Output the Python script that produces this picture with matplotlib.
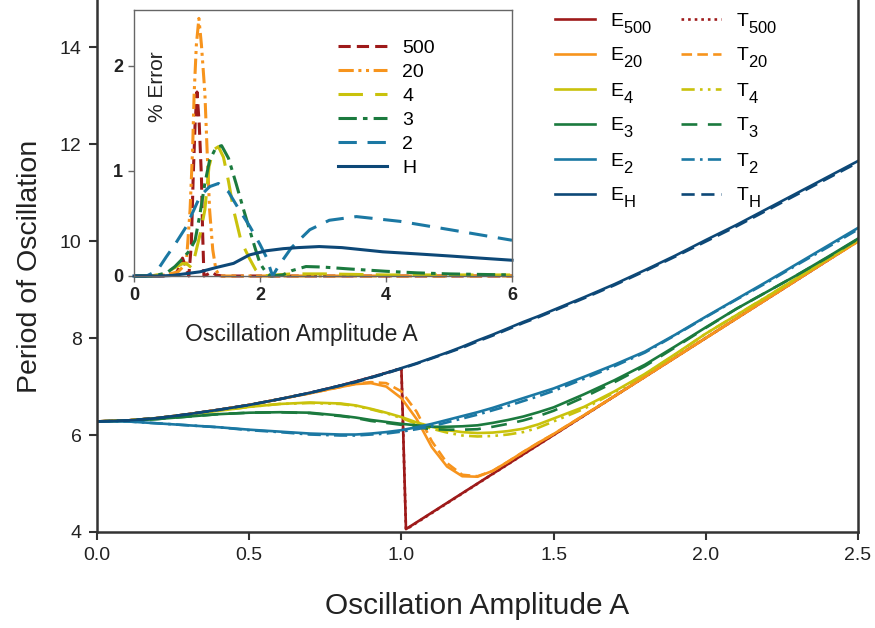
import matplotlib
matplotlib.use("Agg")
import matplotlib.pyplot as plt
import matplotlib._mathtext as mtext

plt.rcParams['font.family'] = ['Liberation Sans', 'DejaVu Sans']
plt.rcParams['mathtext.fontset'] = 'custom'
plt.rcParams['mathtext.rm'] = 'Liberation Sans'
plt.rcParams['mathtext.it'] = 'Liberation Sans:italic'
# subscripts in the legend are nearly full size and sit low
mtext.SHRINK_FACTOR = 0.85
mtext.FontConstantsBase.sub1 = 0.75
mtext.FontConstantsBase.sub2 = 0.85

# ---- main plot data: period vs amplitude ----
A = [0, 0.1, 0.2, 0.3, 0.4, 0.5, 0.6, 0.7, 0.8,
     0.85, 0.9, 0.95, 1.0, 1.05, 1.1, 1.15, 1.2, 1.25, 1.3, 1.35, 1.4, 1.45, 1.5,
     1.6, 1.7, 1.8, 1.9, 2.0, 2.1, 2.2, 2.3, 2.4, 2.5]

E_H = [6.28, 6.30, 6.35, 6.43, 6.52, 6.62, 6.74, 6.87, 7.02,
       7.10, 7.19, 7.28, 7.38, 7.48, 7.59, 7.70, 7.82, 7.95, 8.07, 8.20, 8.33, 8.45, 8.58,
       8.84, 9.11, 9.40, 9.70, 10.02, 10.33, 10.66, 10.99, 11.32, 11.65]
T_H = [6.28, 6.30, 6.35, 6.43, 6.52, 6.62, 6.74, 6.87, 7.02,
       7.09, 7.18, 7.27, 7.37, 7.47, 7.58, 7.69, 7.80, 7.93, 8.05, 8.18, 8.31, 8.43, 8.56,
       8.82, 9.09, 9.38, 9.68, 9.99, 10.30, 10.63, 10.96, 11.29, 11.62]

E_2 = [6.28, 6.28, 6.24, 6.20, 6.16, 6.11, 6.07, 6.03, 6.01,
       6.01, 6.03, 6.06, 6.10, 6.16, 6.23, 6.31, 6.39, 6.47, 6.56, 6.66, 6.76, 6.86, 6.96,
       7.20, 7.45, 7.72, 8.07, 8.44, 8.80, 9.16, 9.53, 9.90, 10.27]
T_2 = [6.28, 6.28, 6.24, 6.20, 6.16, 6.10, 6.06, 6.01, 5.99,
       5.99, 6.01, 6.03, 6.07, 6.12, 6.18, 6.26, 6.34, 6.42, 6.51, 6.60, 6.70, 6.80, 6.91,
       7.16, 7.42, 7.70, 8.06, 8.43, 8.79, 9.14, 9.51, 9.87, 10.24]

E_3 = [6.28, 6.29, 6.33, 6.38, 6.43, 6.46, 6.47, 6.46, 6.40,
       6.36, 6.31, 6.27, 6.23, 6.20, 6.17, 6.17, 6.18, 6.20, 6.25, 6.31, 6.38, 6.47, 6.57,
       6.84, 7.13, 7.45, 7.83, 8.22, 8.60, 8.95, 9.30, 9.67, 10.05]
T_3 = [6.28, 6.29, 6.33, 6.38, 6.43, 6.46, 6.47, 6.45, 6.39,
       6.35, 6.29, 6.25, 6.21, 6.16, 6.12, 6.11, 6.11, 6.12, 6.17, 6.23, 6.30, 6.39, 6.50,
       6.78, 7.09, 7.42, 7.81, 8.21, 8.60, 8.95, 9.30, 9.66, 10.04]

E_4 = [6.28, 6.30, 6.35, 6.42, 6.50, 6.58, 6.64, 6.67, 6.65,
       6.61, 6.54, 6.46, 6.37, 6.26, 6.17, 6.10, 6.06, 6.04, 6.05, 6.08, 6.13, 6.22, 6.34,
       6.58, 6.90, 7.26, 7.67, 8.09, 8.47, 8.85, 9.24, 9.63, 10.02]
T_4 = [6.28, 6.30, 6.35, 6.42, 6.50, 6.58, 6.64, 6.66, 6.64,
       6.60, 6.53, 6.45, 6.35, 6.23, 6.13, 6.05, 5.99, 5.97, 5.98, 6.01, 6.06, 6.15, 6.28,
       6.54, 6.88, 7.25, 7.66, 8.09, 8.47, 8.85, 9.24, 9.63, 10.02]

E_20 = [6.28, 6.30, 6.35, 6.43, 6.52, 6.62, 6.74, 6.86, 6.99,
        7.05, 7.07, 7.00, 6.76, 6.33, 5.75, 5.35, 5.15, 5.14, 5.26, 5.45, 5.65, 5.84, 6.02,
        6.41, 6.80, 7.20, 7.60, 8.00, 8.40, 8.80, 9.20, 9.60, 9.99]
T_20 = [6.28, 6.30, 6.35, 6.43, 6.52, 6.62, 6.74, 6.86, 6.99,
        7.06, 7.09, 7.07, 6.90, 6.48, 5.87, 5.42, 5.18, 5.15, 5.26, 5.45, 5.65, 5.84, 6.02,
        6.41, 6.80, 7.20, 7.60, 8.00, 8.40, 8.80, 9.20, 9.60, 9.99]

A500 = [0, 0.1, 0.2, 0.3, 0.4, 0.5, 0.6, 0.7, 0.8, 0.9, 1.0, 1.015, 1.5, 2.0, 2.5]
E_500 = [6.28, 6.30, 6.35, 6.43, 6.52, 6.62, 6.74, 6.87, 7.02, 7.19, 7.37, 4.06, 6.0, 8.0, 10.0]
T_500 = [6.28, 6.30, 6.35, 6.43, 6.52, 6.62, 6.74, 6.87, 7.02, 7.19, 7.38, 4.05, 6.0, 8.0, 10.0]

# ---- inset data: % error ----
X500 = [0, 0.5, 0.65, 0.72, 0.77, 0.82, 0.87, 0.91, 0.94, 0.97, 1.0, 1.035, 1.07, 1.09, 1.11,
        1.18, 1.24, 1.3, 1.4, 6.0]
Y500 = [0, 0, 0.01, 0.08, 0.17, 0.09, 0.0, 0.3, 0.95, 1.45, 1.75, 1.45, 0.95, 0.4, 0.0,
        0.02, 0.04, 0.01, 0.0, 0.0]
X20 = [0, 0.5, 0.7, 0.83, 0.89, 0.93, 0.955, 0.99, 1.03, 1.07, 1.125, 1.16, 1.2, 1.25, 1.3, 1.36, 6.0]
Y20 = [0, 0.01, 0.04, 0.12, 0.63, 1.2, 1.74, 2.2, 2.45, 2.2, 1.74, 1.2, 0.63, 0.25, 0.06, 0.0, 0.0]
X4 = [0, 0.3, 0.5, 0.65, 0.78, 0.85, 0.91, 0.97, 1.05, 1.125, 1.19, 1.26, 1.34, 1.42, 1.5, 1.58,
      1.7, 1.83, 1.93, 2.02, 2.5, 3.0, 4.0, 5.0, 6.0]
Y4 = [0, 0.0, 0.03, 0.08, 0.12, 0.11, 0.08, 0.2, 0.4, 0.63, 1.04, 1.2, 1.23, 1.13, 0.9, 0.63,
      0.33, 0.17, 0.06, 0.0, 0.02, 0.02, 0.01, 0.01, 0.01]
X3 = [0, 0.3, 0.52, 0.65, 0.78, 0.88, 0.97, 1.05, 1.125, 1.2, 1.3, 1.39, 1.5, 1.62, 1.74, 1.83,
      1.92, 2.0, 2.1, 2.17, 2.36, 2.5, 2.73, 3.0, 3.42, 4.0, 4.49, 5.0, 6.0]
Y3 = [0, 0, 0.03, 0.09, 0.17, 0.24, 0.34, 0.6, 0.88, 1.1, 1.22, 1.24, 1.12, 0.88, 0.63, 0.45,
      0.27, 0.12, 0.03, 0.0, 0.01, 0.05, 0.09, 0.085, 0.067, 0.045, 0.03, 0.02, 0.01]
X2 = [0, 0.2, 0.3, 0.4, 0.51, 0.65, 0.83, 1.05, 1.2, 1.34, 1.5, 1.65, 1.84, 2.0, 2.1, 2.2, 2.3,
      2.5, 2.79, 3.1, 3.53, 4.22, 5.02, 6.0]
Y2 = [0, 0, 0.03, 0.08, 0.18, 0.3, 0.47, 0.76, 0.85, 0.88, 0.8, 0.65, 0.47, 0.3, 0.18, 0.0, 0.1,
      0.27, 0.44, 0.53, 0.565, 0.52, 0.44, 0.34]
XH = [0, 0.4, 0.6, 0.8, 1.05, 1.3, 1.58, 1.83, 2.1, 2.37, 2.6, 2.94, 3.3, 3.95, 4.5, 5.02, 5.5, 6.0]
YH = [0, 0, 0.005, 0.02, 0.04, 0.08, 0.12, 0.2, 0.24, 0.26, 0.27, 0.28, 0.27, 0.23, 0.21, 0.19,
      0.17, 0.15]

c500 = '#9e1a1a'
c20 = '#f7941d'
c4 = '#c9c20c'
c3 = '#1b7a3e'
c2 = '#1b78a3'
cH = '#0d4877'
txt = '#222222'

fig = plt.figure(figsize=(8.75, 6.28), dpi=100)
ax = fig.add_axes([97/875, 1 - 532/628, 761/875, 532/628])

lw = 1.9
e500, = ax.plot(A500, E_500, color=c500, lw=lw, label=r'E$_{\mathrm{500}}$')
t500, = ax.plot(A500, T_500, color=c500, lw=lw, ls=(0, (1, 1.5)), label=r'T$_{\mathrm{500}}$')
e20, = ax.plot(A, E_20, color=c20, lw=lw, label=r'E$_{\mathrm{20}}$')
t20, = ax.plot(A, T_20, color=c20, lw=lw, ls=(0, (4, 2)), label=r'T$_{\mathrm{20}}$')
e4, = ax.plot(A, E_4, color=c4, lw=lw, label=r'E$_{\mathrm{4}}$')
t4, = ax.plot(A, T_4, color=c4, lw=lw, ls=(0, (5, 2, 1, 2, 1, 2)), label=r'T$_{\mathrm{4}}$')
e3, = ax.plot(A, E_3, color=c3, lw=lw, label=r'E$_{\mathrm{3}}$')
t3, = ax.plot(A, T_3, color=c3, lw=lw, ls=(0, (6, 4)), label=r'T$_{\mathrm{3}}$')
e2, = ax.plot(A, E_2, color=c2, lw=lw, label=r'E$_{\mathrm{2}}$')
t2, = ax.plot(A, T_2, color=c2, lw=lw, ls=(0, (5, 2, 1, 2)), label=r'T$_{\mathrm{2}}$')
eH, = ax.plot(A, E_H, color=cH, lw=lw, label=r'E$_{\mathrm{H}}$')
tH, = ax.plot(A, T_H, color=cH, lw=lw, ls=(0, (5, 2.5)), label=r'T$_{\mathrm{H}}$')

ax.set_xlim(0, 2.5)
ax.set_ylim(4, 14.97)
ax.set_xticks([0, 0.5, 1.0, 1.5, 2.0, 2.5])
ax.set_xticklabels(['0.0', '0.5', '1.0', '1.5', '2.0', '2.5'])
ax.set_yticks([4, 6, 8, 10, 12, 14])
ax.spines['top'].set_visible(False)
for s in ['left', 'bottom', 'right']:
    ax.spines[s].set_linewidth(1.8)
    ax.spines[s].set_color('#333333')
ax.tick_params(direction='out', length=6, width=1.5, color='#333333',
               labelsize=14, labelcolor=txt, pad=5)
ax.set_xlabel('Oscillation Amplitude A', fontsize=21.5, color=txt, labelpad=20)
ax.set_ylabel('Period of Oscillation', fontsize=20.5, color=txt, labelpad=12)

handles = [e500, e20, e4, e3, e2, eH, t500, t20, t4, t3, t2, tH]
ax.legend(handles=handles, labels=[h.get_label() for h in handles], ncol=2,
          loc='upper left', bbox_to_anchor=(555/875, 1 - 11/628),
          bbox_transform=fig.transFigure, frameon=False, fontsize=14,
          handlelength=2.06, handletextpad=0.75, columnspacing=1.5,
          labelspacing=0.54, borderpad=0, borderaxespad=0)

# ---- inset ----
ax2 = fig.add_axes([134/875, 1 - 276/628, 378/875, 266/628])
ilw = 2.2
ax2.plot(X500, Y500, color=c500, lw=ilw, ls=(0, (4, 2)), label='500', clip_on=False)
ax2.plot(X20, Y20, color=c20, lw=ilw, ls=(0, (5, 1.5, 1, 1.5, 1, 1.5)), label='20', clip_on=False)
ax2.plot(X4, Y4, color=c4, lw=ilw, ls=(0, (8, 4)), label='4', clip_on=False)
ax2.plot(X3, Y3, color=c3, lw=ilw, ls=(0, (6, 2, 1.5, 2)), label='3', clip_on=False)
ax2.plot(X2, Y2, color=c2, lw=ilw, ls=(0, (6, 3.5)), label='2', clip_on=False)
ax2.plot(XH, YH, color=cH, lw=ilw, label='H', clip_on=False)

ax2.set_xlim(0, 6)
ax2.set_ylim(0, 2.53)
ax2.set_xticks([0, 2, 4, 6])
ax2.set_yticks([0, 1, 2])
for s in ax2.spines.values():
    s.set_linewidth(1.0)
    s.set_color('#666666')
ax2.tick_params(direction='out', length=4, width=1.0, color='#666666',
                labelsize=13, labelcolor=txt, pad=4)
for lab in ax2.get_xticklabels() + ax2.get_yticklabels():
    lab.set_fontweight('bold')
ax2.set_xlabel('Oscillation Amplitude A', fontsize=16.5, color=txt)
ax2.xaxis.set_label_coords(0.442, -0.178)
ax2.text(0.062, 0.71, '% Error', rotation=90, transform=ax2.transAxes,
         fontsize=15, color=txt, ha='center', va='center')
ax2.legend(loc='upper left', bbox_to_anchor=(338/875, 1 - 39/628),
           bbox_transform=fig.transFigure, frameon=False, fontsize=14,
           handlelength=2.5, handletextpad=0.8, labelspacing=0.33,
           borderpad=0, borderaxespad=0)

fig.savefig('out.png', dpi=100)
